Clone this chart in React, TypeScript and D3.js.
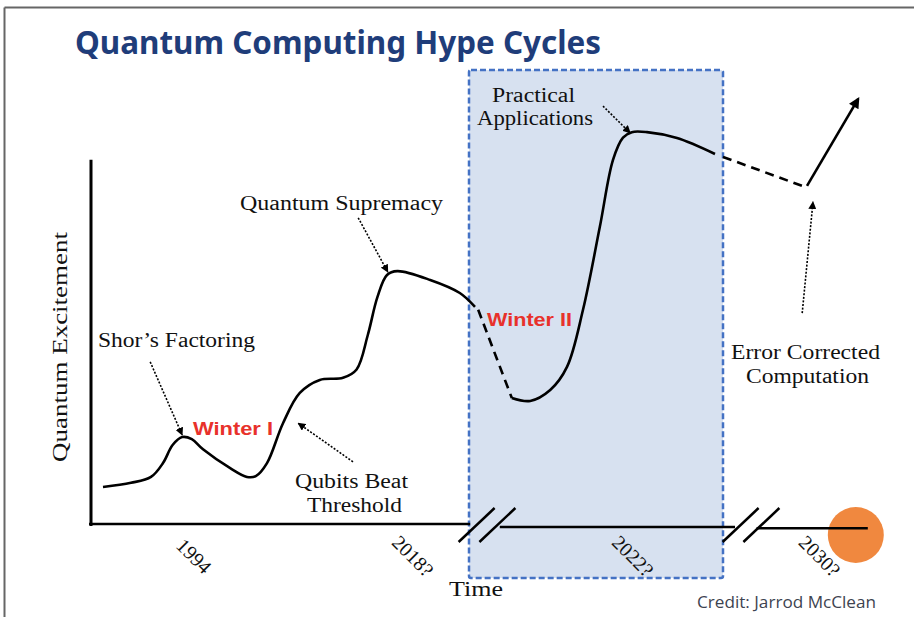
import React from "react";
import { scaleLinear, line, curveCatmullRom } from "d3";

// excitement curve, x = time units (0-100), y = excitement (0-10)
const shorRise = [
  [1.5, 0.88], [5, 0.98], [7.5, 1.12], [9, 1.45], [10.2, 1.88], [11.4, 2.07],
  [12.6, 2.02], [14, 1.78], [17.4, 1.33], [19.5, 1.12], [20.6, 1.14], [22, 1.45],
  [24, 2.4], [26.1, 3.12], [28.6, 3.43], [31.5, 3.48], [33.2, 3.68], [34.6, 4.5],
  [35.8, 5.4], [37, 5.93], [38.3, 6.02], [42.4, 5.81], [46.1, 5.5], [48, 5.17],
];
const winterTwo = [[48.4, 5.1], [52.6, 3.0]];
const secondRise = [
  [52.6, 3.0], [54.9, 2.93], [57.4, 3.19], [59.5, 3.74], [61.5, 5.1], [63.6, 7.07],
  [65.25, 8.67], [66.5, 9.2], [67.6, 9.33], [69.5, 9.33], [73.25, 9.19], [78, 8.81],
];
const plateau = [[79, 8.74], [88.9, 8.05]];
const errorCorrected = [[89.5, 8.05], [95.9, 10.12]];

const tickLabels = ["1994", "2018?", "2022?", "2030?"];
const tickValues = [12.9, 40.25, 67.75, 91.1];

const axisSegments = [[-0.25, 47.4, 0], [51.1, 80.5, -0.07], [83.2, 97.1, -0.1]];
const axisBreaks = [48.2, 50.8, 81.2, 83.8];

// dotted pointer arrows: [tailX, tailY, tipX, tipY]
const pointers = [
  [7.4, 3.86, 11.4, 2.12],
  [32.75, 1.48, 25.9, 2.4],
  [33.4, 7.29, 37.1, 6.0],
  [64, 9.95, 67.4, 9.31],
  [88.9, 5.02, 90.25, 7.67],
];

const serif = "'Liberation Serif', 'DejaVu Serif', serif";

export default function App() {
  const width = 914;
  const height = 617;
  const x = scaleLinear().domain([0, 100]).range([91, 891]);
  const y = scaleLinear().domain([0, 10]).range([524, 104]);

  const smooth = line<number[]>()
    .x((d) => x(d[0]))
    .y((d) => y(d[1]))
    .curve(curveCatmullRom.alpha(0.5));
  const straight = line<number[]>()
    .x((d) => x(d[0]))
    .y((d) => y(d[1]));

  const Label = ({ x0, y0, w, size = 20, children }: any) => (
    <text x={x0} y={y0} fontFamily={serif} fontSize={size} textLength={w}
      lengthAdjust="spacingAndGlyphs" fill="#111">
      {children}
    </text>
  );

  return (
    <svg width={width} height={height} style={{ position: "absolute", left: 0, top: 0, background: "#fff" }}>
      <defs>
        <marker id="dot-head" viewBox="0 0 10 10" refX="9" refY="5" markerWidth="8" markerHeight="8"
          markerUnits="userSpaceOnUse" orient="auto">
          <path d="M0,0 L10,5 L0,10 z" fill="#000" />
        </marker>
        <marker id="big-head" viewBox="0 0 10 10" refX="8" refY="5" markerWidth="13" markerHeight="11"
          markerUnits="userSpaceOnUse" orient="auto">
          <path d="M0,0 L10,5 L0,10 z" fill="#000" />
        </marker>
      </defs>

      {/* frame */}
      <line x1={4.5} y1={7.5} x2={914} y2={7.5} stroke="#666" strokeWidth={2} />
      <line x1={4.5} y1={7.5} x2={4.5} y2={617} stroke="#666" strokeWidth={2} />

      <text x={75} y={54} fontFamily="'Noto Sans', 'Open Sans', sans-serif" fontWeight="bold" fontSize={33}
        fill="#1f3d7a" textLength={526} lengthAdjust="spacingAndGlyphs">
        Quantum Computing Hype Cycles
      </text>

      {/* highlighted era */}
      <rect x={x(47.25)} y={70} width={x(79)- x(47.25)} height={508} rx={2}
        fill="#d7e1f0" stroke="#4472c4" strokeWidth={2.5} strokeDasharray="6 3" />

      <circle cx={x(95.6)} cy={535} r={28} fill="#f0883f" />

      {/* axes */}
      <line x1={x(0)} y1={y(8.67)} x2={x(0)} y2={y(-0.05)} stroke="#000" strokeWidth={3} />
      {axisSegments.map((s, i) => (
        <line key={i} x1={x(s[0])} x2={x(s[1])} y1={y(s[2])} y2={y(s[2])} stroke="#000" strokeWidth={2.5} />
      ))}
      {axisBreaks.map((b, i) => (
        <line key={i} x1={x(b) - 18} y1={y(0) + 18} x2={x(b) + 18} y2={y(0) - 16}
          stroke="#000" strokeWidth={2.5} />
      ))}

      {/* curve */}
      <path d={smooth(shorRise) ?? ""} fill="none" stroke="#000" strokeWidth={2.6} />
      <path d={straight(winterTwo) ?? ""} fill="none" stroke="#000" strokeWidth={2.6} strokeDasharray="9 6" />
      <path d={smooth(secondRise) ?? ""} fill="none" stroke="#000" strokeWidth={2.6} />
      <path d={straight(plateau) ?? ""} fill="none" stroke="#000" strokeWidth={2.6} strokeDasharray="9 6" />
      <path d={straight(errorCorrected) ?? ""} fill="none" stroke="#000" strokeWidth={2.6} markerEnd="url(#big-head)" />

      {pointers.map((p, i) => (
        <line key={i} x1={x(p[0])} y1={y(p[1])} x2={x(p[2])} y2={y(p[3])}
          stroke="#000" strokeWidth={1.6} strokeDasharray="2 1.6" markerEnd="url(#dot-head)" />
      ))}

      {/* tick labels */}
      {tickLabels.map((t, i) => (
        <text key={t} transform={`translate(${x(tickValues[i])},556) rotate(45)`} textAnchor="middle"
          dominantBaseline="central" fontFamily={serif} fontSize={20} fill="#111">
          {t}
        </text>
      ))}

      <text transform="translate(67,347) rotate(-90)" textAnchor="middle" fontFamily={serif} fontSize={21}
        fill="#111" textLength={230} lengthAdjust="spacingAndGlyphs">
        Quantum Excitement
      </text>
      <Label x0={449} y0={596} w={54} size={22}>Time</Label>

      <Label x0={98} y0={347} w={157}>Shor’s Factoring</Label>
      <Label x0={240} y0={210} w={203}>Quantum Supremacy</Label>
      <Label x0={295} y0={488} w={113}>Qubits Beat</Label>
      <Label x0={307} y0={512} w={95}>Threshold</Label>
      <Label x0={492} y0={102} w={83}>Practical</Label>
      <Label x0={477} y0={125} w={116}>Applications</Label>
      <Label x0={731} y0={359} w={149}>Error Corrected</Label>
      <Label x0={746} y0={383} w={123}>Computation</Label>

      <text x={193} y={435} fontFamily="'Liberation Sans', Arial, sans-serif" fontWeight="bold" fontSize={19}
        fill="#e8312b" textLength={80} lengthAdjust="spacingAndGlyphs">Winter I</text>
      <text x={487} y={326} fontFamily="'Liberation Sans', Arial, sans-serif" fontWeight="bold" fontSize={19}
        fill="#e8312b" textLength={85} lengthAdjust="spacingAndGlyphs">Winter II</text>

      <text x={697} y={608} fontFamily="'Open Sans', 'Noto Sans', sans-serif" fontSize={16} fill="#3d4350"
        textLength={179} lengthAdjust="spacingAndGlyphs">
        Credit: Jarrod McClean
      </text>
    </svg>
  );
}
